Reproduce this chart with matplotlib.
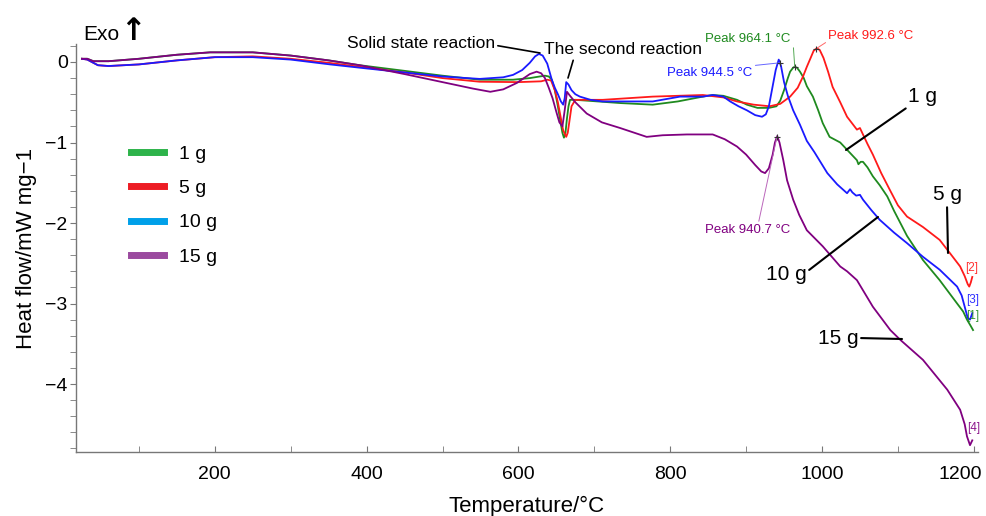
import numpy as np
import matplotlib
matplotlib.use("Agg")
import matplotlib.pyplot as plt
from matplotlib.lines import Line2D
import matplotlib.transforms as mtrans

plt.rcParams['font.family'] = ['Liberation Sans', 'DejaVu Sans']

# ---------------- data ----------------
T_1g = [25, 32, 40, 60, 100, 150, 194, 250, 300, 350, 391, 450, 500, 549, 593, 615, 628, 635, 640, 644,
        648, 652, 655, 658, 660, 662, 664, 666, 668, 675, 690, 734, 777, 810, 843, 856, 870, 888, 901, 915,
        930, 940, 945, 950, 955, 958, 962, 964, 967, 971, 976, 980, 988, 995, 1001, 1010, 1024, 1033,
        1046, 1048, 1051, 1054, 1060, 1067, 1076, 1086, 1095, 1112, 1133, 1155, 1178, 1186, 1191, 1196,
        1199]
H_1g = [0.04, 0.04, 0.01, 0.01, 0.04, 0.09, 0.12, 0.12, 0.08, 0.02, -0.04, -0.11, -0.17, -0.22, -0.22,
        -0.2, -0.18, -0.17, -0.18, -0.22, -0.35, -0.55, -0.72, -0.88, -0.94, -0.88, -0.7, -0.55, -0.47,
        -0.47, -0.48, -0.51, -0.53, -0.49, -0.43, -0.41, -0.42, -0.47, -0.53, -0.57, -0.57, -0.55, -0.48,
        -0.35, -0.2, -0.12, -0.07, -0.06, -0.07, -0.12, -0.2, -0.3, -0.43, -0.6, -0.76, -0.93, -1.0, -1.09,
        -1.22, -1.27, -1.24, -1.24, -1.31, -1.42, -1.53, -1.67, -1.85, -2.16, -2.46, -2.71, -3.0, -3.1,
        -3.2, -3.28, -3.33]

T_5g = [25, 32, 46, 60, 100, 150, 200, 250, 300, 350, 391, 450, 500, 549, 600, 630, 638, 643, 648, 652,
        655, 659, 663, 665, 667, 670, 675, 711, 777, 843, 870, 888, 910, 931, 945, 958, 968, 975, 980, 985,
        989, 993, 997, 1002, 1008, 1014, 1024, 1033, 1046, 1050, 1054, 1060, 1067, 1078, 1090, 1100, 1112,
        1133, 1155, 1169, 1182, 1188, 1192, 1194, 1196, 1198]
H_5g = [0.04, 0.03, -0.04, -0.05, -0.03, 0.02, 0.06, 0.07, 0.04, -0.01, -0.06, -0.13, -0.2, -0.245, -0.25,
        -0.24, -0.22, -0.23, -0.35, -0.5, -0.65, -0.85, -0.93, -0.88, -0.75, -0.55, -0.47, -0.47, -0.43,
        -0.41, -0.44, -0.49, -0.53, -0.55, -0.52, -0.43, -0.32, -0.18, -0.06, 0.05, 0.14, 0.17, 0.15, 0.05,
        -0.12, -0.31, -0.5, -0.68, -0.84, -0.82, -0.9, -1.02, -1.15, -1.38, -1.6, -1.78, -1.92, -2.05,
        -2.21, -2.38, -2.54, -2.66, -2.76, -2.79, -2.74, -2.67]

T_10g = [25, 32, 46, 60, 100, 150, 200, 250, 300, 352, 400, 450, 500, 549, 580, 593, 605, 615, 622, 627,
         632, 638, 644, 648, 652, 656, 659, 661, 663, 666, 670, 675, 681, 695, 711, 777, 813, 843, 856, 870,
         879, 890, 901, 912, 921, 926, 930, 935, 939, 943, 946, 950, 955, 962, 971, 980, 990, 1007, 1020,
         1033, 1037, 1040, 1045, 1050, 1054, 1065, 1076, 1095, 1112, 1133, 1155, 1178, 1184, 1188, 1192,
         1195, 1198]
H_10g = [0.04, 0.03, -0.04, -0.05, -0.03, 0.02, 0.06, 0.06, 0.03, -0.03, -0.08, -0.13, -0.18, -0.21, -0.19,
         -0.16, -0.1, -0.01, 0.07, 0.1, 0.08, -0.02, -0.22, -0.32, -0.4, -0.49, -0.53, -0.45, -0.25, -0.28,
         -0.35, -0.4, -0.43, -0.47, -0.49, -0.49, -0.43, -0.43, -0.41, -0.43, -0.49, -0.55, -0.6, -0.66,
         -0.68, -0.65, -0.55, -0.3, -0.1, 0.03, -0.05, -0.25, -0.42, -0.6, -0.78, -0.98, -1.12, -1.38,
         -1.52, -1.63, -1.58, -1.62, -1.66, -1.65, -1.71, -1.84, -1.96, -2.12, -2.25, -2.42, -2.58, -2.79,
         -2.9, -3.04, -3.18, -3.2, -3.12]

T_15g = [25, 32, 40, 60, 100, 150, 194, 250, 300, 350, 391, 450, 500, 540, 563, 580, 598, 615, 624, 630,
         635, 640, 645, 650, 654, 658, 661, 664, 668, 675, 690, 710, 734, 769, 790, 822, 856, 872, 888,
         900, 912, 920, 925, 930, 935, 938, 941, 944, 949, 954, 962, 970, 980, 1001, 1024, 1033, 1046,
         1067, 1090, 1103, 1133, 1165, 1182, 1188, 1191, 1195, 1198]
H_15g = [0.04, 0.04, 0.01, 0.01, 0.04, 0.09, 0.12, 0.12, 0.08, 0.02, -0.04, -0.15, -0.25, -0.33, -0.37,
         -0.34, -0.26, -0.15, -0.12, -0.14, -0.2, -0.32, -0.45, -0.62, -0.75, -0.8, -0.6, -0.37, -0.42, -0.5,
         -0.64, -0.75, -0.82, -0.93, -0.91, -0.9, -0.9, -0.96, -1.05, -1.15, -1.28, -1.36, -1.38, -1.32,
         -1.15, -1.0, -0.92, -1.0, -1.22, -1.47, -1.71, -1.9, -2.09, -2.29, -2.54, -2.6, -2.71, -3.04,
         -3.33, -3.45, -3.7, -4.07, -4.32, -4.5, -4.65, -4.76, -4.7]

labels = ["1 g", "5 g", "10 g", "15 g"]
line_colors = ["#1f8a1f", "#ff1a1a", "#1a1aff", "#800080"]
legend_colors = ["#2db34a", "#ed1c24", "#00a0e9", "#9b4a9f"]
end_tags = ["[1]", "[2]", "[3]", "[4]"]
peaks_T = [964.1, 992.6, 944.5, 940.7]
peak_texts = ["Peak 964.1 °C", "Peak 992.6 °C", "Peak 944.5 °C", "Peak 940.7 °C"]
xticks = [200, 400, 600, 800, 1000, 1200]
yticks = [0, -1, -2, -3, -4]

series = [(T_1g, H_1g), (T_5g, H_5g), (T_10g, H_10g), (T_15g, H_15g)]

# ---------------- figure ----------------
W, H = 986, 516
fig = plt.figure(figsize=(W / 100, H / 100), dpi=100)
ax = fig.add_axes([76 / W, 1 - 452 / H, (978 - 76) / W, (452 - 44) / H])


def p2d(x, y):
    return ((x - 63) / 0.759, (62 - y) / 80.5)


for (t, h), c in zip(series, line_colors):
    ax.plot(t, h, color=c, lw=1.3, zorder=3, solid_joinstyle='round')

ax.set_xlim(p2d(76, 0)[0], p2d(978, 0)[0])
ax.set_ylim(p2d(0, 452)[1], p2d(0, 44)[1])

ax.set_xticks(xticks)
ax.set_xticks(np.arange(100, 1201, 100), minor=True)
ax.set_yticks(yticks)
ax.set_yticks(np.arange(-4.8, 0.21, 0.2), minor=True)
ax.tick_params(axis='x', which='both', direction='in', length=4, color='#777777', labelsize=14, pad=10)
ax.tick_params(axis='y', which='both', direction='out', length=4, color='#777777', labelsize=14, pad=2)
for s in ['top', 'right']:
    ax.spines[s].set_visible(False)
for s in ['left', 'bottom']:
    ax.spines[s].set_color('#777777')
    ax.spines[s].set_linewidth(1.0)

# shift the last x tick label left so it stays inside the figure
fig.canvas.draw()
last = ax.get_xticklabels()[-1]
last.set_ha('right')
last.set_transform(last.get_transform() + mtrans.ScaledTranslation(8 / 100, 0, fig.dpi_scale_trans))

ax.set_xlabel("Temperature/°C", fontsize=16, labelpad=9)
ax.set_ylabel("Heat flow/mW mg−1", fontsize=16, labelpad=6)

# peak markers
for (t, h), pt in zip(series, peaks_T):
    ph = float(np.interp(pt, t, h))
    ax.plot([pt], [ph], marker='+', color='#333333', ms=5, mew=0.8, zorder=4)

ax.annotate(peak_texts[0], xy=(peaks_T[0], np.interp(peaks_T[0], T_1g, H_1g)), xytext=p2d(748, 39),
            color=line_colors[0], fontsize=9.5, ha='center', va='center',
            arrowprops=dict(arrowstyle='-', color='#55aa55', lw=0.7, shrinkA=0, shrinkB=0,
                            relpos=(1.03, 0.0)))
ax.annotate(peak_texts[1], xy=(peaks_T[1], np.interp(peaks_T[1], T_5g, H_5g)), xytext=p2d(871, 36),
            color=line_colors[1], fontsize=9.5, ha='center', va='center',
            arrowprops=dict(arrowstyle='-', color='#ff6666', lw=0.7, shrinkA=0, shrinkB=0,
                            relpos=(0.0, 0.1)))
ax.annotate(peak_texts[2], xy=(peaks_T[2], np.interp(peaks_T[2], T_10g, H_10g)), xytext=p2d(710, 73),
            color=line_colors[2], fontsize=9.5, ha='center', va='center',
            arrowprops=dict(arrowstyle='-', color='#6666ff', lw=0.7, shrinkA=0, shrinkB=0,
                            relpos=(0.85, 1.0)))
ax.annotate(peak_texts[3], xy=(peaks_T[3], np.interp(peaks_T[3], T_15g, H_15g)), xytext=p2d(748, 230),
            color=line_colors[3], fontsize=9.5, ha='center', va='center',
            arrowprops=dict(arrowstyle='-', color='#bb66bb', lw=0.7, shrinkA=0, shrinkB=0,
                            relpos=(0.62, 1.0)))

# reaction labels
ax.annotate("Solid state reaction", xy=p2d(540, 53), xytext=p2d(421, 43), fontsize=12.5,
            ha='center', va='center',
            arrowprops=dict(arrowstyle='-', color='black', lw=1.2, shrinkA=0, shrinkB=0,
                            relpos=(1.0, 0.35)))
ax.annotate("The second reaction", xy=p2d(568, 78), xytext=p2d(623, 50), fontsize=12.5,
            ha='center', va='center',
            arrowprops=dict(arrowstyle='-', color='black', lw=1.2, shrinkA=0, shrinkB=0,
                            relpos=(0.19, 0.0)))

# mass labels with leader lines
lbl_kw = dict(fontsize=15, ha='center', va='center')
line_kw = dict(arrowstyle='-', color='black', lw=1.5, shrinkA=0, shrinkB=0)
ax.annotate(labels[0], xy=p2d(846, 150), xytext=p2d(923, 97), **lbl_kw,
            arrowprops=dict(relpos=(0.0, 0.0), **line_kw))
ax.annotate(labels[1], xy=p2d(948, 253), xytext=p2d(947, 195), **lbl_kw,
            arrowprops=dict(relpos=(0.5, 0.0), **line_kw))
ax.annotate(labels[2], xy=p2d(878, 217), xytext=p2d(786, 274), **lbl_kw,
            arrowprops=dict(relpos=(1.0, 0.6), **line_kw))
ax.annotate(labels[3], xy=p2d(902, 339), xytext=p2d(838, 338), **lbl_kw,
            arrowprops=dict(relpos=(1.0, 0.5), **line_kw))

# end tags
tag_pos = [(973, 316), (972, 268), (973, 300), (974, 428)]
for tag, c, (px, py) in zip(end_tags, line_colors, tag_pos):
    x, y = p2d(px, py)
    ax.text(x, y, tag, color=c, fontsize=8.5, ha='center', va='center', alpha=0.9)

# legend
handles = [Line2D([0], [0], color=c, lw=5) for c in legend_colors]
leg = ax.legend(handles, labels, loc='upper left',
                bbox_to_anchor=((113 - 76) / (978 - 76), (452 - 128) / 408),
                frameon=False, fontsize=14, handlelength=1.7, handletextpad=0.8, labelspacing=0.85)

# Exo arrow
fig.text(83 / W, 1 - 35 / H, "Exo", fontsize=15, ha='left', va='center')
fig.text(120 / W, 1 - 31 / H, "↑", fontsize=22, fontweight='bold', ha='left', va='center',
         family=['DejaVu Sans'])

fig.savefig("out.png", dpi=100)
